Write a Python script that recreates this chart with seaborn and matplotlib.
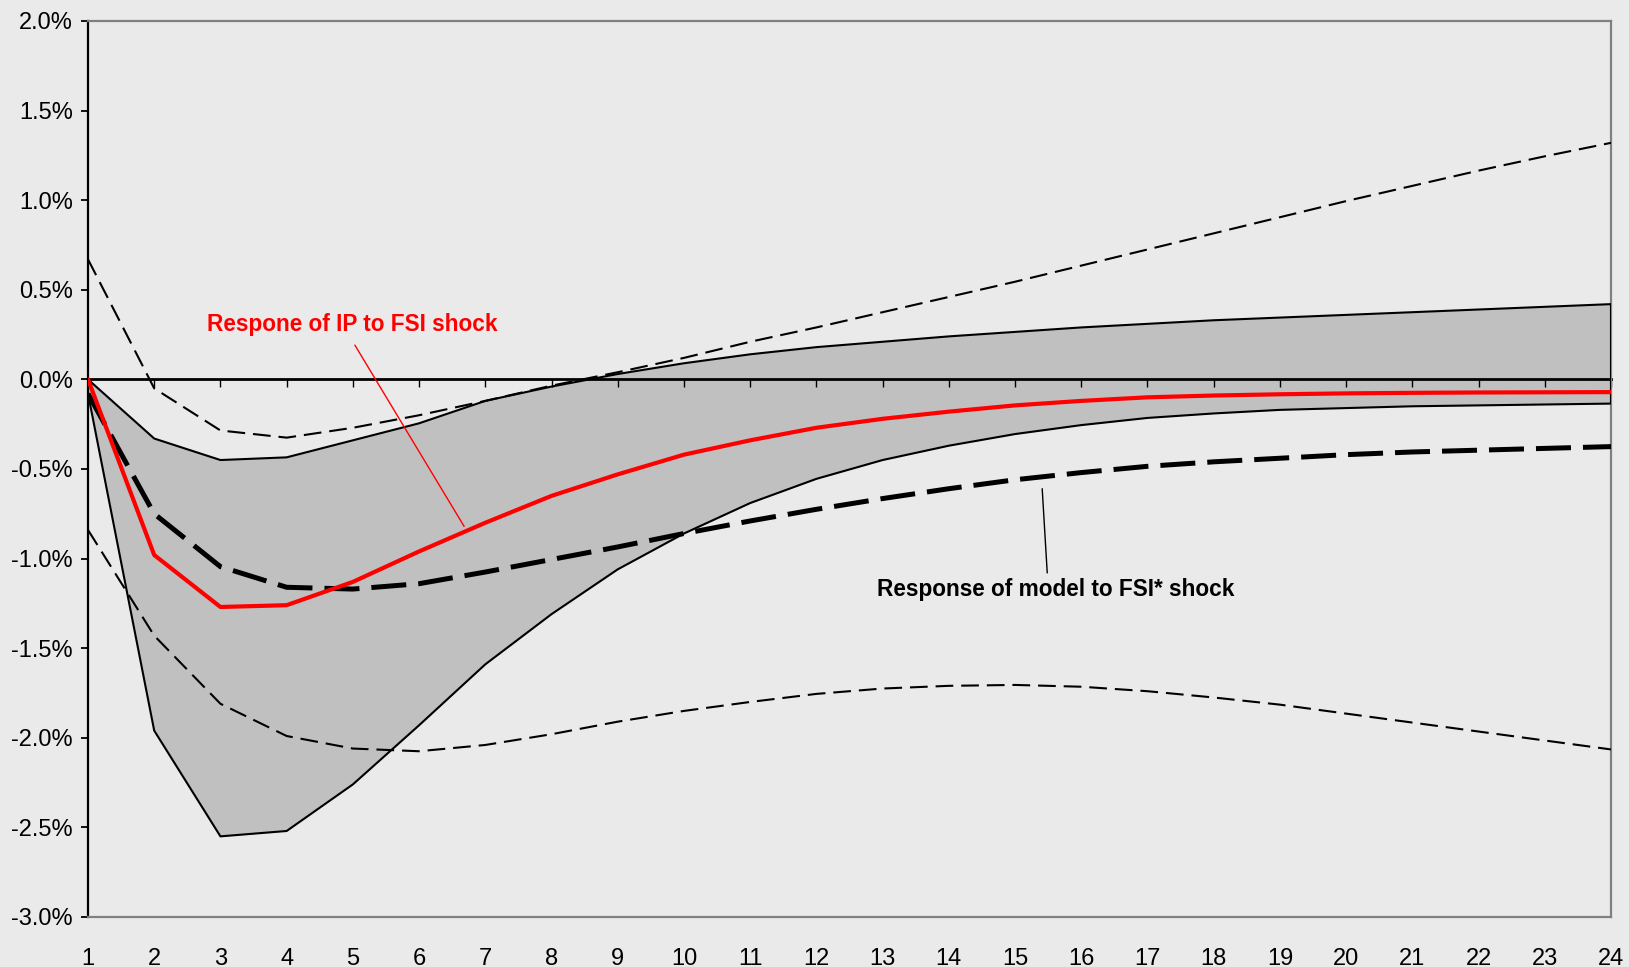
import matplotlib
matplotlib.use("Agg")
import matplotlib.pyplot as plt
from matplotlib.ticker import FuncFormatter, MultipleLocator
import pandas as pd
import seaborn as sns

# Horizon (months after the shock)
periods = list(range(1, 25))

# Impulse response of industrial production to an FSI shock (%)
ip_response = [0.0, -0.98, -1.27, -1.26, -1.13, -0.96, -0.80, -0.65, -0.53, -0.42,
               -0.34, -0.27, -0.22, -0.18, -0.145, -0.12, -0.10, -0.09, -0.083, -0.078,
               -0.075, -0.073, -0.072, -0.071]

# Confidence band around the IP response (shaded area)
band_upper = [0.0, -0.33, -0.45, -0.435, -0.34, -0.245, -0.12, -0.04, 0.03, 0.09,
              0.14, 0.18, 0.21, 0.24, 0.265, 0.29, 0.31, 0.33, 0.345, 0.36,
              0.375, 0.39, 0.405, 0.42]
band_lower = [-0.08, -1.96, -2.55, -2.52, -2.26, -1.93, -1.59, -1.31, -1.06, -0.86,
              -0.69, -0.555, -0.45, -0.37, -0.305, -0.255, -0.215, -0.19, -0.17, -0.16,
              -0.15, -0.145, -0.14, -0.135]

# Response of the model to an FSI* shock and its outer bounds
model_response = [-0.08, -0.75, -1.045, -1.16, -1.17, -1.14, -1.075, -1.005, -0.935, -0.86,
                  -0.79, -0.725, -0.665, -0.61, -0.56, -0.52, -0.485, -0.46, -0.44, -0.42,
                  -0.405, -0.395, -0.385, -0.375]
model_upper = [0.67, -0.05, -0.285, -0.325, -0.27, -0.20, -0.12, -0.035, 0.04, 0.12,
               0.21, 0.29, 0.375, 0.46, 0.545, 0.635, 0.725, 0.815, 0.905, 0.995,
               1.08, 1.165, 1.245, 1.32]
model_lower = [-0.84, -1.43, -1.81, -1.99, -2.06, -2.075, -2.04, -1.98, -1.91, -1.85,
               -1.80, -1.755, -1.725, -1.71, -1.705, -1.715, -1.74, -1.775, -1.815, -1.865,
               -1.915, -1.965, -2.015, -2.065]

label_ip = "Respone of IP to FSI shock"
label_model = "Response of model to FSI* shock"

df = pd.DataFrame({
    "period": periods,
    "ip": ip_response,
    "band_upper": band_upper,
    "band_lower": band_lower,
    "model": model_response,
    "model_upper": model_upper,
    "model_lower": model_lower,
})

sns.set_theme(style="white")
plt.rcParams["font.family"] = ["Liberation Sans", "DejaVu Sans"]

BG = "#EAEAEA"
W, H = 1629, 967
fig = plt.figure(figsize=(W / 100, H / 100), dpi=100, facecolor=BG)
ax = fig.add_axes([88 / W, 1 - 917 / H, (1611 - 88) / W, (917 - 21) / H])
ax.set_facecolor(BG)

# Shaded band
ax.fill_between(df["period"], df["band_lower"], df["band_upper"],
                color="#C0C0C0", linewidth=0, zorder=1)
sns.lineplot(data=df, x="period", y="band_upper", ax=ax, color="black",
             linewidth=1.5, zorder=3)
sns.lineplot(data=df, x="period", y="band_lower", ax=ax, color="black",
             linewidth=1.5, zorder=3)
ax.vlines(df["period"].iloc[-1], df["band_lower"].iloc[-1], df["band_upper"].iloc[-1],
          color="black", linewidth=1.5, zorder=3)

# Outer bounds (thin dashed)
for col in ["model_upper", "model_lower"]:
    sns.lineplot(data=df, x="period", y=col, ax=ax, color="black",
                 linewidth=1.5, linestyle=(0, (8.5, 3.8)), zorder=3)

# Model response (thick dashed)
sns.lineplot(data=df, x="period", y="model", ax=ax, color="black",
             linewidth=3.6, linestyle=(0, (7, 2.4)), zorder=4)

# IP response (red)
sns.lineplot(data=df, x="period", y="ip", ax=ax, color="#FF0000",
             linewidth=3.0, zorder=5)

ax.set_xlim(1, 24)
ax.set_ylim(-3.0, 2.0)
ax.set_xlabel("")
ax.set_ylabel("")

ax.set_xticks(periods)
ax.yaxis.set_major_locator(MultipleLocator(0.5))
ax.yaxis.set_major_formatter(FuncFormatter(
    lambda v, _: "0.0%" if abs(v) < 1e-9 else f"{v:.1f}%"))

ax.tick_params(axis="x", length=0, pad=22, labelsize=17, colors="black")
ax.tick_params(axis="y", left=True, direction="out", length=5, width=1.3,
               pad=6, labelsize=17, color="black", labelcolor="black")

for side in ["top", "right", "bottom"]:
    ax.spines[side].set_color("#808080")
    ax.spines[side].set_linewidth(1.6)
ax.spines["left"].set_color("black")
ax.spines["left"].set_linewidth(1.6)

# Category axis crossing at zero, with tick marks hanging below it
zero_frac = (0 - (-3.0)) / (2.0 - (-3.0))
sec = ax.secondary_xaxis(zero_frac)
sec.set_xticks(periods)
sec.xaxis.set_ticks_position("top")
sec.tick_params(axis="x", which="both", top=True, bottom=False, direction="in",
                length=6, width=1.0, color="black",
                labeltop=False, labelbottom=False)
for side in ["top", "bottom"]:
    sec.spines[side].set_color("black")
    sec.spines[side].set_linewidth(2.0)
sec.set_zorder(2)

# Annotations with leader lines
ax.annotate(label_ip, xy=(6.68, -0.82), xytext=(4.99, 0.307),
            textcoords="data", ha="center", va="center",
            fontsize=16.3, fontweight="bold", color="#FF0000",
            arrowprops=dict(arrowstyle="-", color="#FF0000", lw=1.0,
                            relpos=(0.49, 0.0), shrinkA=5, shrinkB=0),
            zorder=6)
ax.annotate(label_model, xy=(15.41, -0.61), xytext=(15.62, -1.17),
            textcoords="data", ha="center", va="center",
            fontsize=16.3, fontweight="bold", color="black",
            arrowprops=dict(arrowstyle="-", color="black", lw=1.0,
                            relpos=(0.476, 1.0), shrinkA=1, shrinkB=0),
            zorder=6)

fig.savefig("out.png", dpi=100, facecolor=BG)
